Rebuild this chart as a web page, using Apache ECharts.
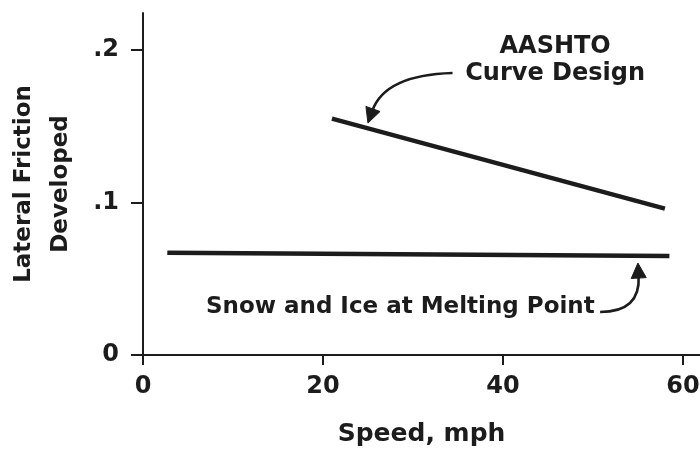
<!DOCTYPE html>
<html><head><meta charset="utf-8">
<script src="https://cdn.jsdelivr.net/npm/echarts@6/dist/echarts.min.js"></script>
<style>html,body{margin:0;padding:0;background:#fff}#c{width:700px;height:451px}</style>
</head><body><div id="c"></div>
<script>
// ---- data ----
const aashtoSpeed = [21, 58];
const aashtoFriction = [0.155, 0.096];
const snowSpeed = [2.7, 58.5];
const snowFriction = [0.067, 0.065];
const xTickValues = [0, 20, 40, 60];
const yTickValues = [0, 0.1, 0.2];
const yTickLabels = ['0', '.1', '.2'];
const aashtoLabel = 'AASHTO\nCurve Design';
const snowLabel = 'Snow and Ice at Melting Point';
const xAxisName = 'Speed, mph';
const yAxisName = 'Lateral Friction\nDeveloped';

const INK = '#1c1c1c';
const FONT = 'DejaVu Sans';
const chart = echarts.init(document.getElementById('c'), null, {renderer: 'canvas'});

const pairs = (xs, ys) => xs.map((x, i) => [x, ys[i]]);

chart.setOption({
  animation: false,
  backgroundColor: '#ffffff',
  grid: {left: 143, right: 0, top: 13, bottom: 96, containLabel: false, outerBoundsMode: 'none'},
  xAxis: {
    type: 'value', min: 0, max: 61.9,
    name: xAxisName, nameLocation: 'middle', nameGap: 67,
    nameTextStyle: {fontFamily: FONT, fontWeight: 'bold', fontSize: 25, color: INK},
    axisLine: {show: true, onZero: false, lineStyle: {color: INK, width: 2}},
    axisTick: {show: true, length: 10, customValues: xTickValues, lineStyle: {color: INK, width: 2}},
    axisLabel: {customValues: xTickValues, margin: 20, fontFamily: FONT, fontWeight: 'bold', fontSize: 24, color: INK},
    splitLine: {show: false}
  },
  yAxis: {
    type: 'value', min: 0, max: 0.2243,
    name: yAxisName, nameLocation: 'middle', nameGap: 63,
    nameTextStyle: {fontFamily: FONT, fontWeight: 'bold', fontSize: 23, lineHeight: 37, color: INK, align: 'center'},
    axisLine: {show: true, lineStyle: {color: INK, width: 2}},
    axisTick: {show: true, length: 12, customValues: yTickValues, lineStyle: {color: INK, width: 2}},
    axisLabel: {
      customValues: yTickValues, margin: 24, fontFamily: FONT, fontWeight: 'bold', fontSize: 24, color: INK,
      formatter: v => { const i = yTickValues.findIndex(t => Math.abs(t - v) < 1e-9); return i >= 0 ? yTickLabels[i] : ''; }
    },
    splitLine: {show: false}
  },
  series: [
    {name: 'AASHTO', type: 'line', data: pairs(aashtoSpeed, aashtoFriction), symbol: 'none',
     lineStyle: {color: INK, width: 4.5, cap: 'butt'}},
    {name: 'Snow', type: 'line', data: pairs(snowSpeed, snowFriction), symbol: 'none',
     lineStyle: {color: INK, width: 4.5, cap: 'butt'}}
  ]
});

function px(pt) { return chart.convertToPixel({gridIndex: 0}, pt); }
function arrow(p0d, cd, tipd) {
  const p0 = px(p0d), c = px(cd), tip = px(tipd);
  let dx = tip[0] - c[0], dy = tip[1] - c[1];
  const len = Math.hypot(dx, dy); dx /= len; dy /= len;
  const L = 15, W = 7.5;
  const base = [tip[0] - dx * L, tip[1] - dy * L];
  const nx = -dy, ny = dx;
  return [
    {type: 'bezierCurve', silent: true,
     shape: {x1: p0[0], y1: p0[1], x2: base[0] + dx * 2, y2: base[1] + dy * 2, cpx1: c[0], cpy1: c[1]},
     style: {stroke: INK, lineWidth: 2.6, fill: null}},
    {type: 'polygon', silent: true,
     shape: {points: [tip, [base[0] + nx * W, base[1] + ny * W], [base[0] - nx * W, base[1] - ny * W]]},
     style: {fill: INK, stroke: INK, lineWidth: 1}}
  ];
}
function label(text, pt, size, lh) {
  const p = px(pt);
  return {type: 'text', silent: true, x: p[0], y: p[1],
    style: {text: text, fill: INK, font: 'bold ' + size + 'px "' + FONT + '"', align: 'center', verticalAlign: 'middle', lineHeight: lh}};
}

chart.setOption({
  graphic: [
    label(aashtoLabel, [45.8, 0.1935], 24, 27),
    ...arrow([34.4, 0.1849], [26.9, 0.1836], [25.0, 0.1521]),
    label(snowLabel, [28.6, 0.0315], 23, 27),
    ...arrow([50.8, 0.0282], [55.3, 0.0282], [55.0, 0.0603])
  ]
});
</script></body></html>
